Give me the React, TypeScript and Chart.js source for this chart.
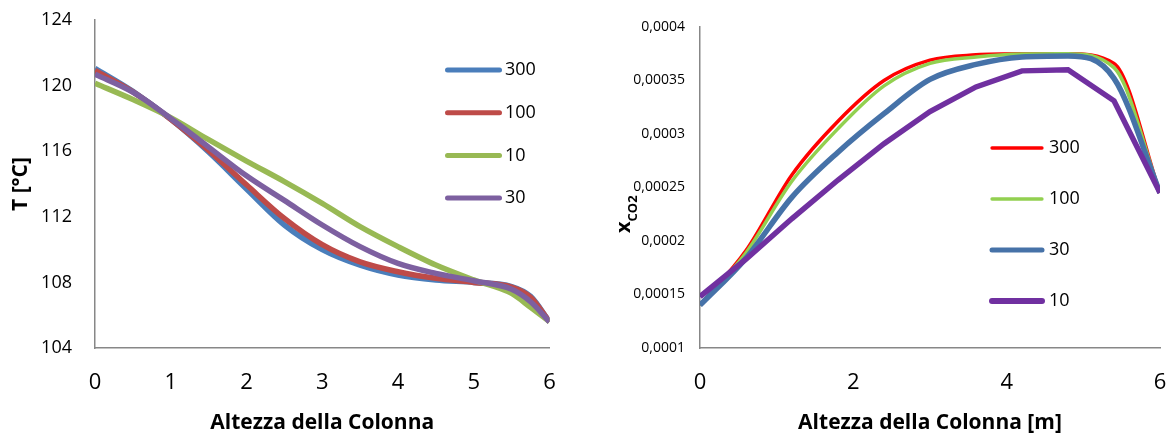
import React, { useEffect, useRef } from 'react';
import { Chart, registerables } from 'chart.js';

Chart.register(...registerables);

// ---------- Left chart: temperature profiles ----------
const heightLeft = [0, 0.5, 1, 1.5, 2, 2.5, 3, 3.5, 4, 4.5, 5, 5.5, 5.75, 6];
const temp300 = [121.05, 119.65, 117.95, 115.95, 113.7, 111.5, 110.0, 109.05, 108.45, 108.15, 108.0, 107.75, 107.15, 105.6];
const temp100 = [120.92, 119.62, 117.95, 116.05, 113.95, 111.9, 110.3, 109.25, 108.65, 108.25, 108.0, 107.72, 107.1, 105.6];
const temp10 = [120.14, 119.15, 118.05, 116.7, 115.4, 114.15, 112.82, 111.4, 110.18, 109.06, 108.15, 107.33, 106.48, 105.6];
const temp30 = [120.69, 119.6, 118.0, 116.25, 114.5, 113.0, 111.5, 110.18, 109.16, 108.55, 108.1, 107.58, 106.82, 105.6];
const leftLabels = ['300', '100', '10', '30'];
const tempTicks = [104, 108, 112, 116, 120, 124];
const leftXTicks = [0, 1, 2, 3, 4, 5, 6];
const leftXTitle = 'Altezza della Colonna';
const leftYTitle = 'T [°C]';

// ---------- Right chart: CO2 fraction profiles ----------
const heightRight = [0, 0.6, 1.2, 1.8, 2.4, 3.0, 3.6, 4.2, 4.8, 5.4, 6.0];
const co2_300 = [0.00014, 0.000191, 0.000262, 0.000312, 0.00035, 0.000369, 0.000374, 0.000375, 0.000375, 0.000366, 0.000245];
const co2_100 = [0.00014, 0.000189, 0.000256, 0.000305, 0.000345, 0.000366, 0.000372, 0.0003748, 0.000375, 0.000362, 0.000245];
const co2_30 = [0.00014, 0.000184, 0.000241, 0.000283, 0.000319, 0.000351, 0.000365, 0.000372, 0.000373, 0.000352, 0.000245];
const co2_10 = [0.000148, 0.000183, 0.000221, 0.000257, 0.000291, 0.000321, 0.000344, 0.000359, 0.00036, 0.000331, 0.000245];
const rightLabels = ['300', '100', '30', '10'];
const co2Ticks = [0.0001, 0.00015, 0.0002, 0.00025, 0.0003, 0.00035, 0.0004];
const rightXTicks = [0, 2, 4, 6];
const rightXTitle = 'Altezza della Colonna [m]';
const rightYTitleMain = 'x';
const rightYTitleSub = 'CO2';

const FONT = '"Open Sans"';
const AXIS_COLOR = '#878787';

const toPoints = (xs: number[], ys: number[]) => xs.map((x, i) => ({ x, y: ys[i] }));

function legendPlugin(x0: number, x1: number, tx: number, y0: number, dy: number) {
  return {
    id: 'customLegend',
    afterDraw(chart: any) {
      const ctx = chart.ctx;
      chart.data.datasets.forEach((ds: any, i: number) => {
        const y = y0 + i * dy;
        ctx.save();
        ctx.strokeStyle = ds.borderColor;
        ctx.lineWidth = ds.legendWidth ?? ds.borderWidth;
        ctx.lineCap = 'round';
        ctx.beginPath();
        ctx.moveTo(x0, y);
        ctx.lineTo(x1, y);
        ctx.stroke();
        ctx.fillStyle = '#000';
        ctx.font = `18px ${FONT}`;
        ctx.textBaseline = 'middle';
        ctx.textAlign = 'left';
        ctx.fillText(ds.label, tx, y);
        ctx.restore();
      });
    },
  };
}

const subTitlePlugin = {
  id: 'subTitle',
  afterDraw(chart: any) {
    const ctx = chart.ctx;
    ctx.save();
    ctx.translate(30, 233);
    ctx.rotate(-Math.PI / 2);
    ctx.fillStyle = '#000';
    ctx.textBaseline = 'alphabetic';
    ctx.textAlign = 'left';
    ctx.font = `bold 20px ${FONT}`;
    ctx.fillText(rightYTitleMain, 0, 0);
    const w = ctx.measureText(rightYTitleMain).width;
    ctx.font = `bold 13px ${FONT}`;
    ctx.fillText(rightYTitleSub, w, 7);
    ctx.restore();
  },
};

function fixedTicks(values: number[]) {
  return (scale: any) => {
    scale.ticks = values.map((v) => ({ value: v }));
  };
}

function fitTo(prop: 'width' | 'height', size: number) {
  return (s: any) => {
    s[prop] = size;
    s.paddingLeft = 0;
    s.paddingRight = 0;
    s.paddingTop = 0;
    s.paddingBottom = 0;
  };
}

function makeLeft(canvas: HTMLCanvasElement) {
  const colors = ['#4A7EBB', '#BE4B48', '#98B954', '#7D60A0'];
  const series = [temp300, temp100, temp10, temp30];
  return new Chart(canvas, {
    type: 'line',
    data: {
      datasets: series.map((s, i) => ({
        label: leftLabels[i],
        data: toPoints(heightLeft, s),
        borderColor: colors[i],
        backgroundColor: colors[i],
        borderWidth: 5.5,
        legendWidth: 5,
        pointRadius: 0,
        fill: false,
        cubicInterpolationMode: 'monotone',
        order: series.length - 1 - i,
      })) as any,
    },
    options: {
      responsive: false,
      animation: false,
      events: [],
      layout: { padding: { top: 20, right: 50.5, bottom: 0, left: 0 } },
      plugins: { legend: { display: false }, tooltip: { enabled: false }, title: { display: false } },
      scales: {
        x: {
          type: 'linear',
          min: 0,
          max: 6,
          afterBuildTicks: fixedTicks(leftXTicks),
          afterFit: fitTo('height', 88),
          grid: { display: false, drawTicks: false },
          border: { display: true, color: AXIS_COLOR, width: 1.5 },
          ticks: { padding: 22, color: '#000', font: { family: FONT, size: 22 } },
          title: { display: true, text: leftXTitle, color: '#000', padding: { top: 0, bottom: 0 }, font: { family: FONT, size: 21, weight: 'bold' } },
        },
        y: {
          type: 'linear',
          min: 104,
          max: 124,
          afterBuildTicks: fixedTicks(tempTicks),
          afterFit: fitTo('width', 95),
          grid: { display: false, drawTicks: false },
          border: { display: true, color: AXIS_COLOR, width: 1.5 },
          ticks: { padding: 23, color: '#000', font: { family: FONT, size: 18 } },
          title: { display: true, text: leftYTitle, color: '#000', padding: { top: 8, bottom: 0 }, font: { family: FONT, size: 21, weight: 'bold' } },
        },
      },
    } as any,
    plugins: [legendPlugin(447.5, 499.5, 505, 70, 42.7)],
  });
}

function makeRight(canvas: HTMLCanvasElement) {
  const colors = ['#FF0000', '#92D050', '#4672A8', '#7030A0'];
  const widths = [3.5, 3.5, 5.5, 5.5];
  const legendWidths = [3.3, 3.3, 5, 6];
  const series = [co2_300, co2_100, co2_30, co2_10];
  return new Chart(canvas, {
    type: 'line',
    data: {
      datasets: series.map((s, i) => ({
        label: rightLabels[i],
        data: toPoints(heightRight, s),
        borderColor: colors[i],
        backgroundColor: colors[i],
        borderWidth: widths[i],
        legendWidth: legendWidths[i],
        pointRadius: 0,
        fill: false,
        cubicInterpolationMode: i === 3 ? 'default' : 'monotone',
        tension: 0,
        order: series.length - 1 - i,
      })) as any,
    },
    options: {
      responsive: false,
      animation: false,
      events: [],
      layout: { padding: { top: 27, right: 13, bottom: 0, left: 0 } },
      plugins: { legend: { display: false }, tooltip: { enabled: false }, title: { display: false } },
      scales: {
        x: {
          type: 'linear',
          min: 0,
          max: 6,
          afterBuildTicks: fixedTicks(rightXTicks),
          afterFit: fitTo('height', 88),
          grid: { display: false, drawTicks: false },
          border: { display: true, color: AXIS_COLOR, width: 1.5 },
          ticks: { padding: 22, color: '#000', font: { family: FONT, size: 22 } },
          title: { display: true, text: rightXTitle, color: '#000', padding: { top: 0, bottom: 0 }, font: { family: FONT, size: 21, weight: 'bold' } },
        },
        y: {
          type: 'linear',
          min: 0.0001,
          max: 0.0004,
          afterBuildTicks: fixedTicks(co2Ticks),
          afterFit: fitTo('width', 100),
          grid: { display: false, drawTicks: false },
          border: { display: true, color: AXIS_COLOR, width: 1.5 },
          ticks: {
            padding: 15,
            color: '#000',
            font: { family: FONT, size: 14 },
            callback: (v: any) => String(Number(Number(v).toFixed(6))).replace('.', ','),
          },
          title: { display: false },
        },
      },
    } as any,
    plugins: [legendPlugin(392, 442, 449, 148, 51), subTitlePlugin],
  });
}

export default function App() {
  const leftRef = useRef<HTMLCanvasElement>(null);
  const rightRef = useRef<HTMLCanvasElement>(null);

  useEffect(() => {
    const a = makeLeft(leftRef.current!);
    const b = makeRight(rightRef.current!);
    return () => {
      a.destroy();
      b.destroy();
    };
  }, []);

  return (
    <div style={{ position: 'fixed', left: 0, top: 0, width: 1173, height: 436, background: '#fff' }}>
      <canvas ref={leftRef} width={600} height={436} style={{ position: 'absolute', left: 0, top: 0, width: 600, height: 436 }} />
      <canvas ref={rightRef} width={573} height={436} style={{ position: 'absolute', left: 600, top: 0, width: 573, height: 436 }} />
    </div>
  );
}
